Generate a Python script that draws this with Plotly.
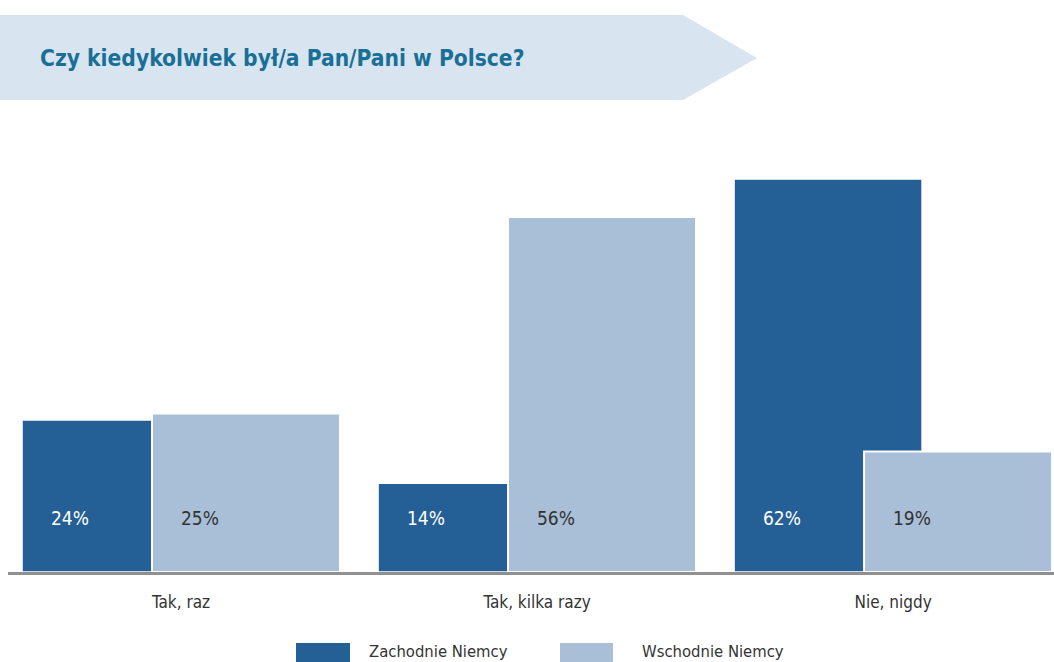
import plotly.graph_objects as go

categories = ["Tak, raz", "Tak, kilka razy", "Nie, nigdy"]
west = [24, 14, 62]
east = [25, 56, 19]
series_names = ["Zachodnie Niemcy", "Wschodnie Niemcy"]
title_text = "Czy kiedykolwiek był/a Pan/Pani w Polsce?"

DARK = "#245f95"
LIGHT = "#a9bfd8"
BANNER = "#d8e5f0"
TITLE_C = "#1a6f97"
TEXT_C = "#333333"
FONT = "DejaVu Sans Condensed, Liberation Sans Narrow, Arial Narrow, Roboto, sans-serif"

W, H = 1054, 662
ML, MR, MT, MB = 8, 0, 160, 90
PW, PH = W - ML - MR, H - MT - MB

def px_x(p):
    return (p - ML) / PW

def px_y(p):
    return (H - MB - p) / PH

bar_w = 0.528
off_dark = -0.4466
off_light = -0.0815
xs = list(range(len(categories)))

fig = go.Figure()
fig.add_trace(go.Bar(x=xs, y=west, name=series_names[0], width=[bar_w]*3, offset=[off_dark]*3,
                     marker=dict(color=DARK, line=dict(color="white", width=1.5)), showlegend=False))
fig.add_trace(go.Bar(x=xs, y=east, name=series_names[1], width=[bar_w]*3, offset=[off_light]*3,
                     marker=dict(color=LIGHT, line=dict(color="white", width=2)), showlegend=False))

annotations = []
for i, v in enumerate(west):
    annotations.append(dict(x=i + off_dark, y=8.5, xref="x", yref="y", text=f"{v}%", showarrow=False,
                            xanchor="left", yanchor="middle", xshift=27,
                            font=dict(family=FONT, size=19, color="white")))
for i, v in enumerate(east):
    annotations.append(dict(x=i + off_light, y=8.5, xref="x", yref="y", text=f"{v}%", showarrow=False,
                            xanchor="left", yanchor="middle", xshift=27,
                            font=dict(family=FONT, size=19, color=TEXT_C)))

# title banner
shapes = [dict(type="path", xref="paper", yref="paper",
               path=(f"M {px_x(0)} {px_y(15)} L {px_x(683)} {px_y(15)} L {px_x(757)} {px_y(58)} "
                     f"L {px_x(683)} {px_y(100)} L {px_x(0)} {px_y(100)} Z"),
               fillcolor=BANNER, line=dict(width=0), layer="below")]
annotations.append(dict(x=px_x(38), y=px_y(58), xref="paper", yref="paper", text=f"<b>{title_text}</b>",
                        showarrow=False, xanchor="left", yanchor="middle",
                        font=dict(family=FONT, size=22.6, color=TITLE_C)))

# legend
leg = [(296, 350, 367, DARK, series_names[0]), (560, 613, 640, LIGHT, series_names[1])]
for x0, x1, tx, col, name in leg:
    shapes.append(dict(type="rect", xref="paper", yref="paper", x0=px_x(x0), x1=px_x(x1),
                       y0=px_y(643), y1=px_y(666), fillcolor=col, line=dict(width=0)))
    annotations.append(dict(x=px_x(tx), y=px_y(651), xref="paper", yref="paper", text=name,
                            showarrow=False, xanchor="left", yanchor="middle",
                            font=dict(family=FONT, size=16.5, color=TEXT_C)))

fig.update_layout(
    width=W, height=H, margin=dict(l=ML, r=MR, t=MT, b=MB),
    barmode="overlay", plot_bgcolor="white", paper_bgcolor="white",
    shapes=shapes, annotations=annotations,
    xaxis=dict(range=[-0.486, 2.452], tickvals=xs, ticktext=categories, showgrid=False, zeroline=False,
               showline=True, linecolor="#909090", linewidth=2.5, ticks="", ticklabelstandoff=13,
               tickfont=dict(family=FONT, size=17, color=TEXT_C), fixedrange=True),
    yaxis=dict(range=[0, 65], visible=False, fixedrange=True),
)
fig.write_html("out.html", config={"displayModeBar": False},
               post_script="document.body.style.margin='0';document.body.style.overflow='hidden';")
